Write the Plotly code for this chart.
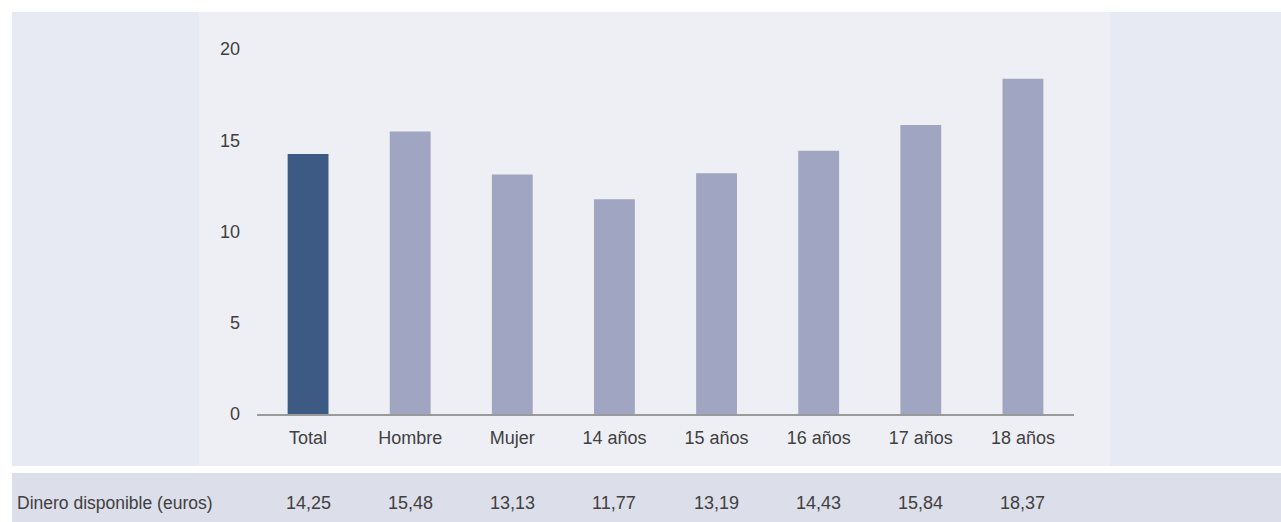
import plotly.graph_objects as go

categories = ["Total", "Hombre", "Mujer", "14 años", "15 años", "16 años", "17 años", "18 años"]
values = [14.25, 15.48, 13.13, 11.77, 13.19, 14.43, 15.84, 18.37]
value_labels = ["14,25", "15,48", "13,13", "11,77", "13,19", "14,43", "15,84", "18,37"]
row_label = "Dinero disponible (euros)"
y_ticks = [0, 5, 10, 15, 20]

W, H = 1281, 522
FONT = "Liberation Sans, Arial, sans-serif"
TEXT = "#404040"
FS = 18

bar_colors = ["#3c5a84"] + ["#a0a5c1"] * (len(categories) - 1)


def px_x(x):
    return x / W


def px_y(y):
    return 1 - y / H


fig = go.Figure()
fig.add_trace(go.Bar(
    x=categories, y=values,
    marker=dict(color=bar_colors, line=dict(width=0)),
    hoverinfo="x+y",
))

# background panels
shapes = [
    dict(type="rect", xref="paper", yref="paper", layer="below",
         x0=px_x(12), x1=1, y0=px_y(466), y1=px_y(12),
         fillcolor="#e8eaf3", line=dict(width=0)),
    dict(type="rect", xref="paper", yref="paper", layer="below",
         x0=px_x(199), x1=px_x(1110), y0=px_y(466), y1=px_y(12),
         fillcolor="#eeeff5", line=dict(width=0)),
    dict(type="rect", xref="paper", yref="paper", layer="below",
         x0=px_x(12), x1=1, y0=0, y1=px_y(473),
         fillcolor="#dcdeea", line=dict(width=0)),
]

annotations = [dict(
    x=px_x(15), y=px_y(503), xref="paper", yref="paper",
    text=row_label, showarrow=False, xanchor="left", yanchor="middle",
    font=dict(family=FONT, size=FS - 0.5, color=TEXT),
)]
for cat, lab in zip(categories, value_labels):
    annotations.append(dict(
        x=cat, y=px_y(503), xref="x", yref="paper",
        text=lab, showarrow=False, xanchor="center", yanchor="middle",
        font=dict(family=FONT, size=FS, color=TEXT),
    ))

fig.update_layout(
    width=W, height=H,
    margin=dict(l=0, r=0, t=0, b=0, pad=0, autoexpand=False),
    paper_bgcolor="white", plot_bgcolor="rgba(0,0,0,0)",
    bargap=0.6, showlegend=False,
    font=dict(family=FONT, size=FS, color=TEXT),
    shapes=shapes, annotations=annotations,
    xaxis=dict(
        domain=[px_x(257), px_x(1074)], automargin=False,
        showline=True, linecolor="#9a9a9a", linewidth=2,
        ticks="", showgrid=False, zeroline=False,
        tickfont=dict(family=FONT, size=FS, color=TEXT),
        ticklabelstandoff=6,
    ),
    yaxis=dict(
        domain=[px_y(414), px_y(49)], automargin=False,
        range=[0, 20], tickvals=y_ticks,
        showgrid=False, zeroline=False, showline=False, ticks="",
        tickfont=dict(family=FONT, size=FS, color=TEXT),
        ticklabelstandoff=16,
    ),
)

fig.write_html(
    "out.html",
    config={"displayModeBar": False},
    post_script=(
        "document.body.style.margin='0';"
        "document.body.style.overflow='hidden';"
        "var d=document.getElementById('{plot_id}');"
        "d.style.position='fixed';d.style.top='0';d.style.left='0';"
    ),
)
